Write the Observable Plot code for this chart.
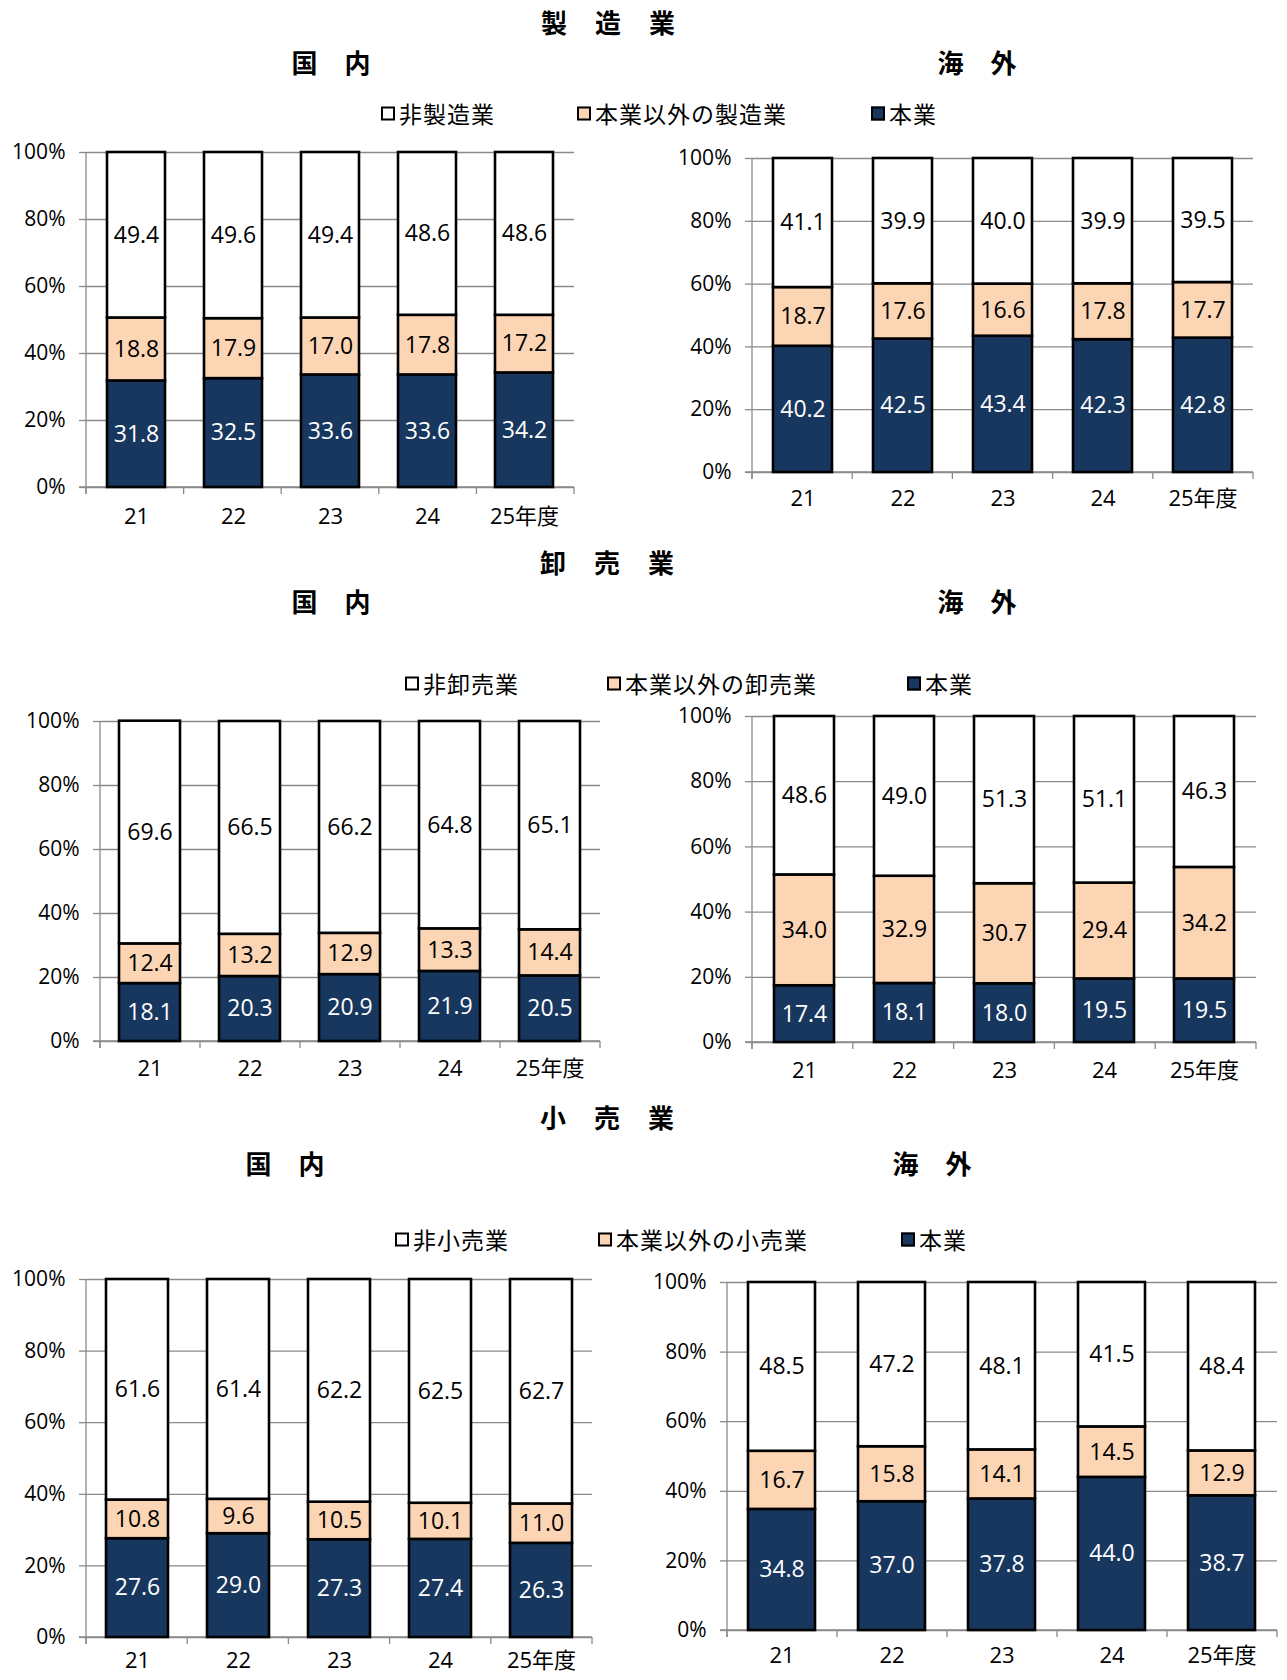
<!DOCTYPE html>
<html><head><meta charset="utf-8">
<script src="https://cdn.jsdelivr.net/npm/d3@7"></script>
<script src="https://cdn.jsdelivr.net/npm/@observablehq/plot@0.6"></script>
<style>
body{margin:0;background:#fff;}
#root{position:relative;width:1287px;height:1680px;overflow:hidden;font-family:"Noto Sans CJK JP",sans-serif;color:#000;}
.t{position:absolute;display:flex;gap:28px;transform:translate(-50%,-50%);font-size:26px;font-weight:bold;white-space:nowrap;line-height:1;}
.lg{position:absolute;display:flex;align-items:center;transform:translateY(-50%);font-size:23px;letter-spacing:1px;white-space:nowrap;line-height:1;}
.sw{width:10px;height:10px;border:2px solid #000;margin-right:4px;}
.chart{position:absolute;}
</style></head><body><div id="root"></div><script>
const years = ["21","22","23","24","25年度"];
const yTicks = [0,20,40,60,80,100];
// 製造業
const mfgDomCore  = [31.8,32.5,33.6,33.6,34.2];
const mfgDomOther = [18.8,17.9,17.0,17.8,17.2];
const mfgDomNon   = [49.4,49.6,49.4,48.6,48.6];
const mfgAbrCore  = [40.2,42.5,43.4,42.3,42.8];
const mfgAbrOther = [18.7,17.6,16.6,17.8,17.7];
const mfgAbrNon   = [41.1,39.9,40.0,39.9,39.5];
// 卸売業
const whsDomCore  = [18.1,20.3,20.9,21.9,20.5];
const whsDomOther = [12.4,13.2,12.9,13.3,14.4];
const whsDomNon   = [69.6,66.5,66.2,64.8,65.1];
const whsAbrCore  = [17.4,18.1,18.0,19.5,19.5];
const whsAbrOther = [34.0,32.9,30.7,29.4,34.2];
const whsAbrNon   = [48.6,49.0,51.3,51.1,46.3];
// 小売業
const rtlDomCore  = [27.6,29.0,27.3,27.4,26.3];
const rtlDomOther = [10.8,9.6,10.5,10.1,11.0];
const rtlDomNon   = [61.6,61.4,62.2,62.5,62.7];
const rtlAbrCore  = [34.8,37.0,37.8,44.0,38.7];
const rtlAbrOther = [16.7,15.8,14.1,14.5,12.9];
const rtlAbrNon   = [48.5,47.2,48.1,41.5,48.4];

const sectionTitles = ["製造業","卸売業","小売業"];
const sideTitles = ["国内","海外"];
const legendMfg = ["非製造業","本業以外の製造業","本業"];
const legendWhs = ["非卸売業","本業以外の卸売業","本業"];
const legendRtl = ["非小売業","本業以外の小売業","本業"];

const NAVY = "#17375e", PEACH = "#fcd5b4", GRID = "#8a8a8a";
const segOrder = ["core","other","non"];
const segFill = {core: NAVY, other: PEACH, non: "#ffffff"};

const root = document.getElementById("root");

function addTitle(text, cx, cy, gap) {
  const d = document.createElement("div");
  d.className = "t";
  d.style.left = cx + "px"; d.style.top = cy + "px";
  d.style.gap = gap + "px";
  for (const ch of text) { const s = document.createElement("span"); s.textContent = ch; d.appendChild(s); }
  root.appendChild(d);
}

function addLegend(labels, xs, cy) {
  const cols = [segFill.non, segFill.other, segFill.core];
  labels.forEach((lab, i) => {
    const d = document.createElement("div");
    d.className = "lg";
    d.style.left = xs[i] + "px"; d.style.top = cy + "px";
    const sw = document.createElement("span"); sw.className = "sw"; sw.style.background = cols[i];
    const tx = document.createElement("span"); tx.textContent = lab;
    d.appendChild(sw); d.appendChild(tx);
    root.appendChild(d);
  });
}

function axisLines(index, scales, values, dims) {
  const g = d3.create("svg:g").attr("stroke", GRID).attr("stroke-width", 1.3);
  const x0 = dims.marginLeft, x1 = dims.width - dims.marginRight;
  const yb = dims.height - dims.marginBottom, yt = dims.marginTop;
  g.append("line").attr("x1", x0).attr("x2", x0).attr("y1", yt).attr("y2", yb + 7);
  g.append("line").attr("x1", x0 - 7).attr("x2", x1).attr("y1", yb).attr("y2", yb);
  const n = years.length;
  for (let i = 0; i <= n; i++) {
    const x = x0 + i * (x1 - x0) / n;
    g.append("line").attr("x1", x).attr("x2", x).attr("y1", yb).attr("y2", yb + 7);
  }
  return g.node();
}

function chart(core, other, non, o) {
  const rows = [];
  years.forEach((yr, i) => {
    rows.push({year: yr, seg: "core", v: core[i]});
    rows.push({year: yr, seg: "other", v: other[i]});
    rows.push({year: yr, seg: "non", v: non[i]});
  });
  const p = Plot.plot({
    width: o.width, height: o.height,
    marginLeft: o.mL, marginRight: o.mR, marginTop: o.mT, marginBottom: o.mB,
    style: {fontFamily: "'Open Sans','Noto Sans CJK JP',sans-serif", fontSize: "21px", color: "#000", background: "transparent", overflow: "visible"},
    x: {domain: years, paddingInner: o.pad, paddingOuter: o.pad / 2, label: null, axis: null},
    y: {domain: [0, 100], label: null, axis: null},
    color: {type: "identity"},
    marks: [
      Plot.gridY(yTicks, {stroke: GRID, strokeOpacity: 1, strokeWidth: 1.3}),
      Plot.axisY(yTicks, {tickFormat: d => d + "%", tickSize: 7, tickPadding: 14, stroke: GRID, strokeWidth: 1.3, fill: "#000", fontSize: 21, label: null}),
      Plot.axisX({tickSize: 0, tickPadding: o.xpad, fill: "#000", fontSize: 22, label: null}),
      axisLines,
      Plot.barY(rows, Plot.stackY({x: "year", y: "v", z: "seg", order: segOrder, fill: d => segFill[d.seg], stroke: "#000", strokeWidth: 2.6})),
      Plot.text(rows, Plot.stackY({x: "year", y: "v", z: "seg", order: segOrder, text: d => d.v.toFixed(1), fill: d => d.seg === "core" ? "#ffffff" : "#000000", fontSize: 23}))
    ]
  });
  p.classList.add("chart");
  p.style.left = o.left + "px"; p.style.top = o.top + "px";
  root.appendChild(p);
}

// 製造業
addTitle(sectionTitles[0], 608, 22, 28);
addTitle(sideTitles[0], 331, 62, 27);
addTitle(sideTitles[1], 977, 62, 27);
addLegend(legendMfg, [381, 577, 871], 113);
chart(mfgDomCore, mfgDomOther, mfgDomNon, {left: 0, top: 130, width: 620, height: 397, mL: 86, mR: 46, mT: 22, mB: 40, pad: 0.4, xpad: 21});
chart(mfgAbrCore, mfgAbrOther, mfgAbrNon, {left: 640, top: 135, width: 647, height: 377, mL: 112, mR: 34, mT: 23, mB: 40, pad: 0.41, xpad: 18});

// 卸売業
addTitle(sectionTitles[1], 607, 562, 28);
addTitle(sideTitles[0], 331, 601, 27);
addTitle(sideTitles[1], 977, 601, 27);
addLegend(legendWhs, [405, 607, 907], 683);
chart(whsDomCore, whsDomOther, whsDomNon, {left: 0, top: 690, width: 620, height: 391, mL: 100, mR: 20, mT: 31, mB: 40, pad: 0.39, xpad: 19});
chart(whsAbrCore, whsAbrOther, whsAbrNon, {left: 640, top: 690, width: 647, height: 392, mL: 112, mR: 31, mT: 26, mB: 40, pad: 0.4, xpad: 20});

// 小売業
addTitle(sectionTitles[2], 607, 1117, 28);
addTitle(sideTitles[0], 285, 1163, 27);
addTitle(sideTitles[1], 932, 1163, 27);
addLegend(legendRtl, [395, 598, 901], 1239);
chart(rtlDomCore, rtlDomOther, rtlDomNon, {left: 0, top: 1248, width: 620, height: 429, mL: 86, mR: 28, mT: 31, mB: 40, pad: 0.39, xpad: 15});
chart(rtlAbrCore, rtlAbrOther, rtlAbrNon, {left: 620, top: 1248, width: 667, height: 427, mL: 107, mR: 10, mT: 34, mB: 45, pad: 0.39, xpad: 17});
</script></body></html>
